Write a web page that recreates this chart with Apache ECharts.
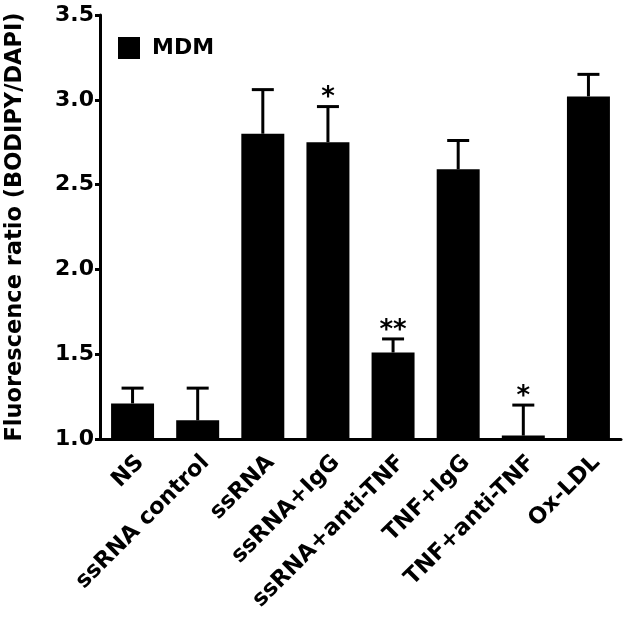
<!DOCTYPE html>
<html>
<head>
<meta charset="utf-8">
<script src="https://cdn.jsdelivr.net/npm/echarts@6/dist/echarts.min.js"></script>
<style>html,body{margin:0;padding:0;background:#fff;}#c{width:629px;height:621px;}</style>
</head>
<body>
<div id="c"></div>
<script>
var categories = ['NS', 'ssRNA control', 'ssRNA', 'ssRNA+IgG', 'ssRNA+anti-TNF', 'TNF+IgG', 'TNF+anti-TNF', 'Ox-LDL'];
var means = [1.21, 1.11, 2.80, 2.75, 1.51, 2.59, 1.02, 3.02];
var sems = [0.09, 0.19, 0.26, 0.21, 0.08, 0.17, 0.18, 0.13];
var sig = ['', '', '', '*', '**', '', '*', ''];
var yTicks = [1.0, 1.5, 2.0, 2.5, 3.0, 3.5];
var seriesName = 'MDM';
var yTitle = 'Fluorescence ratio (BODIPY/DAPI)';

var FONT = "'DejaVu Sans', 'Liberation Sans', Arial, sans-serif";
var chart = echarts.init(document.getElementById('c'), null, {renderer: 'canvas'});

var errData = means.map(function (m, i) { return [i, m, sems[i]]; });

chart.setOption({
  animation: false,
  backgroundColor: '#fff',
  grid: {left: 100, right: 8, top: 15, bottom: 182, containLabel: false, outerBoundsMode: 'none'},
  legend: {
    left: 113, top: 32,
    itemWidth: 22, itemHeight: 22,
    icon: 'rect',
    data: [seriesName],
    textStyle: {fontFamily: FONT, fontWeight: 'bold', fontSize: 22, color: '#000', padding: [0, 0, 0, 7]}
  },
  xAxis: {
    type: 'category',
    data: categories,
    axisLine: {lineStyle: {color: '#000', width: 3}},
    axisTick: {alignWithLabel: true, length: 6, lineStyle: {color: '#000', width: 3}},
    axisLabel: {rotate: 45, margin: 12, interval: 0, verticalAlign: 'top', fontFamily: FONT, fontWeight: 'bold', fontSize: 22.5, color: '#000'},
    splitLine: {show: false}
  },
  yAxis: {
    type: 'value',
    min: yTicks[0], max: yTicks[yTicks.length - 1], interval: 0.5,
    startValue: 1,
    name: yTitle,
    nameLocation: 'middle',
    nameGap: 73,
    nameTextStyle: {fontFamily: FONT, fontWeight: 'bold', fontSize: 22.5, color: '#000'},
    axisLine: {show: true, lineStyle: {color: '#000', width: 3}},
    axisTick: {show: true, length: 5, lineStyle: {color: '#000', width: 3}},
    axisLabel: {margin: 6, fontFamily: FONT, fontWeight: 'bold', fontSize: 22, color: '#000',
      formatter: function (v) { return v.toFixed(1); }},
    splitLine: {show: false}
  },
  series: [
    {
      name: seriesName,
      type: 'bar',
      data: means,
      barWidth: '66%',
      itemStyle: {color: '#000'},
      z: 2
    },
    {
      type: 'custom',
      data: errData,
      z: 3,
      renderItem: function (params, api) {
        var i = api.value(0), m = api.value(1), s = api.value(2);
        var base = api.coord([i, m]);
        var top = api.coord([i, m + s]);
        var hw = 11;
        var children = [
          {type: 'line', shape: {x1: base[0], y1: base[1], x2: top[0], y2: top[1]}, style: {stroke: '#000', lineWidth: 3}},
          {type: 'line', shape: {x1: top[0] - hw, y1: top[1], x2: top[0] + hw, y2: top[1]}, style: {stroke: '#000', lineWidth: 3}}
        ];
        var t = sig[params.dataIndex];
        if (t) {
          children.push({type: 'text', style: {text: t, x: top[0], y: top[1] - 8, textAlign: 'center', textVerticalAlign: 'middle',
            font: 'bold 26px ' + FONT, fill: '#000'}});
        }
        return {type: 'group', children: children};
      }
    }
  ]
});
</script>
</body>
</html>
